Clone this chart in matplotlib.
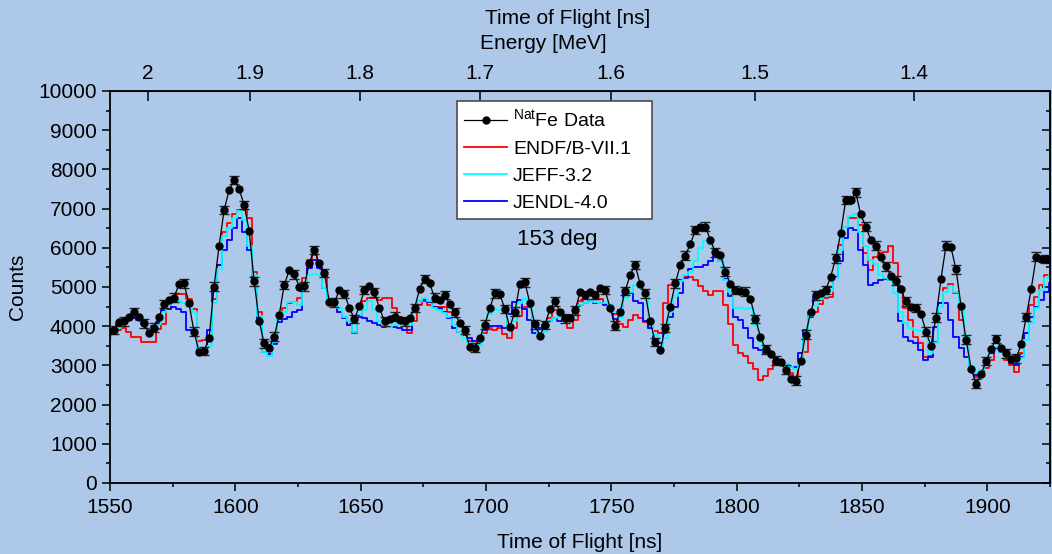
import numpy as np
import matplotlib.pyplot as plt
from matplotlib.lines import Line2D
from matplotlib.ticker import MultipleLocator

plt.rcParams['font.family'] = ['Liberation Sans', 'DejaVu Sans']
plt.rcParams['mathtext.fontset'] = 'custom'
plt.rcParams['mathtext.rm'] = 'Liberation Sans'

# time-of-flight bin centres [ns], 2 ns bins
tof = 1549.5 + 2.0 * np.arange(189)

data_counts = [
    3880, 3900, 4100, 4120, 4240, 4350, 4240, 4070, 3820, 3960,
    4230, 4570, 4670, 4730, 5070, 5090, 4580, 3860, 3350, 3370,
    3690, 5010, 6050, 6960, 7470, 7730, 7500, 7090, 6430, 5140,
    4130, 3560, 3450, 3730, 4290, 5050, 5430, 5320, 5010, 5020,
    5620, 5940, 5600, 5360, 4620, 4610, 4920, 4820, 4470, 4180,
    4520, 4920, 5030, 4860, 4460, 4120, 4180, 4240, 4160, 4120,
    4200, 4460, 4950, 5200, 5090, 4730, 4670, 4800, 4560, 4350,
    4070, 3900, 3480, 3450, 3690, 4040, 4460, 4840, 4820, 4440,
    3970, 4370, 5080, 5120, 4580, 4050, 3760, 4030, 4440, 4630,
    4370, 4200, 4200, 4400, 4860, 4800, 4860, 4800, 4980, 4920,
    4460, 4010, 4370, 4900, 5310, 5560, 5070, 4840, 4120, 3600,
    3390, 3950, 4500, 5090, 5560, 5800, 6090, 6450, 6540, 6540,
    6200, 5880, 5820, 5390, 5070, 4920, 4900, 4880, 4690, 4180,
    3730, 3410, 3290, 3120, 3080, 2890, 2660, 2610, 3100, 3780,
    4360, 4790, 4840, 4920, 5260, 5730, 6370, 7220, 7220, 7410,
    6850, 6540, 6200, 6050, 5770, 5530, 5280, 5160, 4940, 4630,
    4490, 4460, 4320, 3860, 3500, 4220, 5200, 6050, 6010, 5450,
    4520, 3660, 2920, 2530, 2770, 3110, 3410, 3670, 3450, 3310,
    3170, 3180, 3550, 4230, 4950, 5770, 5720, 5710, 5700,
]
data_err = 110

endf = [
    3700, 3800, 3900, 3950, 3850, 3730, 3730, 3600, 3600, 3600,
    3920, 4060, 4450, 4700, 4830, 4830, 4700, 4430, 3620, 3640,
    3760, 4700, 5560, 6400, 6620, 6850, 6960, 6960, 6750, 5390,
    4370, 3560, 3520, 3700, 4180, 4460, 4580, 4620, 4710, 5220,
    5690, 5820, 5520, 5300, 4540, 4500, 4370, 4240, 4030, 3820,
    4290, 4630, 4730, 4730, 4670, 4710, 4710, 4460, 4240, 4070,
    3820, 4120, 4540, 4630, 4540, 4500, 4500, 4500, 4370, 3950,
    3860, 3860, 3610, 3440, 3610, 3820, 3950, 3900, 3950, 3800,
    3700, 3950, 4250, 4500, 4500, 4150, 3950, 3950, 4200, 4400,
    4400, 4150, 3950, 4150, 4650, 4850, 4900, 4870, 4700, 4570,
    4500, 4300, 4050, 3980, 4150, 4280, 4200, 4100, 3950, 3880,
    3820, 4580, 5050, 5150, 5180, 5260, 5260, 5180, 5030, 4890,
    4800, 4910, 4910, 4550, 4060, 3520, 3310, 3240, 3070, 2900,
    2620, 2720, 2900, 3100, 3140, 3040, 2800, 2620, 3140, 3350,
    4370, 4370, 4570, 4710, 4750, 5260, 6070, 6540, 6750, 6750,
    6580, 5860, 5430, 5770, 5860, 5900, 6050, 5600, 4880, 4460,
    4160, 3730, 3580, 3220, 3240, 3600, 4580, 4970, 5080, 4840,
    4160, 3600, 2880, 2710, 2760, 2930, 3140, 3440, 3410, 3140,
    3010, 2840, 3310, 3820, 4540, 4750, 5050, 5310, 5260,
]

jeff = [
    3650, 3780, 3950, 4150, 4250, 4300, 4250, 4100, 3950, 3950,
    4050, 4350, 4550, 4600, 4650, 4600, 4500, 4350, 3450, 3400,
    3500, 4600, 5450, 6300, 6500, 6750, 6950, 6700, 6050, 5300,
    4250, 3350, 3250, 3600, 4200, 4370, 4610, 4610, 4550, 5010,
    5310, 5320, 5310, 4970, 4540, 4540, 4460, 4240, 4120, 3860,
    4290, 4410, 4630, 4410, 4120, 4030, 3990, 4030, 4120, 4030,
    4030, 4460, 4630, 4710, 4630, 4460, 4410, 4330, 4240, 4030,
    3860, 3690, 3560, 3390, 3520, 3950, 4300, 4450, 4420, 4380,
    3950, 4120, 4580, 4690, 4580, 4160, 3730, 3860, 4120, 4200,
    4240, 4200, 4240, 4370, 4540, 4580, 4630, 4610, 4580, 4580,
    4540, 4370, 4200, 4710, 4880, 5050, 5050, 4840, 4200, 3780,
    3310, 3690, 4370, 4760, 5140, 5300, 5390, 5650, 5990, 6160,
    6070, 5860, 5650, 5180, 4880, 4470, 4460, 4440, 4460, 4030,
    3600, 3400, 3250, 3150, 3100, 3030, 2960, 2900, 3100, 3740,
    4260, 4520, 4690, 4780, 4900, 5220, 5940, 6540, 6800, 6850,
    6410, 6040, 5700, 5590, 5310, 5220, 5180, 4840, 4370, 4070,
    3950, 3900, 3880, 3860, 3310, 3560, 4500, 4880, 5030, 4880,
    4460, 3730, 2970, 2800, 2880, 3100, 3390, 3460, 3350, 3220,
    3140, 3070, 3180, 3650, 4070, 4460, 4920, 5220, 5310,
]

jendl = [
    3700, 3850, 4050, 4150, 4200, 4200, 4150, 4050, 3950, 4000,
    4100, 4400, 4450, 4500, 4450, 4350, 3900, 3850, 3400, 3450,
    3900, 5000, 5550, 5950, 6200, 6500, 6750, 6400, 5950, 5100,
    4200, 3350, 3300, 3550, 4100, 4180, 4240, 4370, 4400, 5050,
    5480, 5690, 5480, 4970, 4580, 4540, 4370, 4200, 4030, 3860,
    4240, 4200, 4120, 4070, 4030, 3990, 3990, 3990, 3950, 3900,
    3900, 4370, 4630, 4670, 4610, 4500, 4460, 4370, 4200, 3950,
    3860, 3780, 3690, 3610, 3650, 3900, 4010, 4010, 4010, 3950,
    4300, 4620, 4660, 4450, 4160, 3820, 3950, 4030, 4120, 4200,
    4120, 4240, 4240, 4450, 4540, 4580, 4630, 4580, 4580, 4540,
    4450, 4180, 4410, 4840, 4840, 4630, 4580, 4120, 3950, 3650,
    3560, 3820, 4240, 4500, 4840, 5220, 5450, 5500, 5500, 5560,
    5650, 5800, 5650, 5200, 4780, 4240, 4160, 3950, 3700, 3450,
    3380, 3310, 3310, 3220, 3140, 3040, 2970, 2970, 3310, 3900,
    4240, 4750, 4860, 4880, 5010, 5260, 5650, 6240, 6500, 6450,
    5940, 5560, 5050, 5090, 5180, 5200, 5180, 5050, 4120, 3730,
    3610, 3580, 3390, 3140, 3220, 3990, 4580, 4580, 4160, 3730,
    3440, 3220, 2900, 2760, 2840, 3050, 3310, 3440, 3350, 3310,
    3050, 3010, 3220, 3820, 4240, 4500, 4670, 4880, 5090,
]

energy_ticks = [2.0, 1.9, 1.8, 1.7, 1.6, 1.5, 1.4]
energy_labels = ['2', '1.9', '1.8', '1.7', '1.6', '1.5', '1.4']
K = 4.899e6  # E[MeV] * t[ns]^2


def tof_to_e(t):
    t = np.asarray(t, dtype=float)
    return K / np.where(t > 1, t, 1.0) ** 2


def e_to_tof(e):
    e = np.asarray(e, dtype=float)
    return np.sqrt(K / np.where(e > 1e-6, e, 1e-6))


bg = '#aec8ea'
fig = plt.figure(figsize=(10.52, 5.54), dpi=100, facecolor=bg)
ax = fig.add_axes([0.1046, 0.1282, 0.8935, 0.7076], facecolor=bg)

ax.plot(tof, endf, drawstyle='steps-mid', color='#ff0000', lw=1.3)
ax.plot(tof, jendl, drawstyle='steps-mid', color='#0000ff', lw=1.3)
ax.plot(tof, jeff, drawstyle='steps-mid', color='#00ffff', lw=1.3)
ax.errorbar(tof, data_counts, yerr=data_err, errorevery=(1, 2), fmt='-o',
            color='black', ms=5, lw=0.9, ecolor='#222222', elinewidth=1,
            capsize=3.5, capthick=1, zorder=5)

ax.set_xlim(1550, 1925)
ax.set_ylim(0, 10000)
ax.xaxis.set_major_locator(MultipleLocator(50))
ax.xaxis.set_minor_locator(MultipleLocator(25))
ax.yaxis.set_major_locator(MultipleLocator(1000))
ax.yaxis.set_minor_locator(MultipleLocator(500))
ax.tick_params(which='both', direction='out', labelsize=15, width=1.1,
               top=False, right=False)
ax.tick_params(which='major', length=6)
ax.tick_params(which='minor', length=3)
ax.tick_params(axis='x', pad=5)
for s in ax.spines.values():
    s.set_linewidth(1.3)

ax.set_xlabel('Time of Flight [ns]', fontsize=15, labelpad=11)
ax.set_ylabel('Counts', fontsize=15, labelpad=8)

# right axis: inward ticks only
ry = ax.secondary_yaxis('right')
ry.yaxis.set_major_locator(MultipleLocator(1000))
ry.yaxis.set_minor_locator(MultipleLocator(500))
ry.tick_params(which='both', direction='in', labelright=False, width=1.1)
ry.tick_params(which='major', length=6)
ry.tick_params(which='minor', length=3)

# top axis: energy
top = ax.secondary_xaxis('top', functions=(tof_to_e, e_to_tof))
top.set_xticks(energy_ticks, energy_labels)
top.xaxis.set_minor_locator(plt.NullLocator())
top.tick_params(direction='in', length=7, width=1.1, labelsize=15, pad=6)

fig.text(0.540, 0.967, 'Time of Flight [ns]', fontsize=15, ha='center', va='center')
fig.text(0.516, 0.922, 'Energy [MeV]', fontsize=15, ha='center', va='center')

ax.text(1728.3, 6200, '153 deg', fontsize=16, ha='center', va='center')

handles = [
    Line2D([], [], color='black', marker='o', ms=5, lw=0.9),
    Line2D([], [], color='#ff0000', lw=1.3),
    Line2D([], [], color='#00ffff', lw=1.3),
    Line2D([], [], color='#0000ff', lw=1.3),
]
labels = [r'$^{\mathrm{Nat}}$Fe Data', 'ENDF/B-VII.1', 'JEFF-3.2', 'JENDL-4.0']
leg = ax.legend(handles, labels, loc='upper left', mode='expand',
                bbox_to_anchor=(0.369, 0.0, 0.2074, 0.974),
                borderaxespad=0, fontsize=14, handlelength=2.2, handletextpad=0.3,
                labelspacing=0.48, borderpad=0.38, fancybox=False, framealpha=1,
                edgecolor='#4d4d4d')
leg.get_frame().set_linewidth(1.2)

fig.savefig('out.png', dpi=100, facecolor=bg)
